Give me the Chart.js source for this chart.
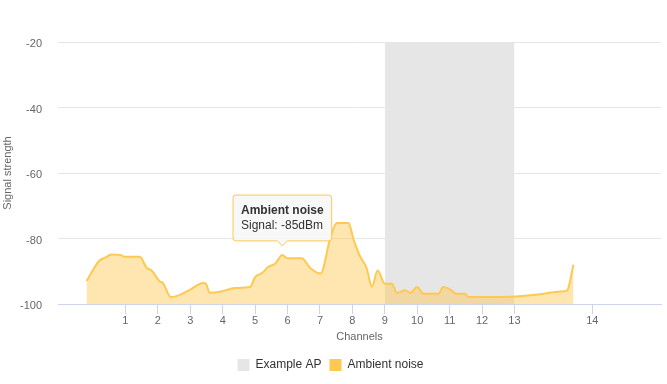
<!DOCTYPE html>
<html>
<head>
<meta charset="utf-8">
<style>
  html, body { margin: 0; padding: 0; background: #ffffff; }
  #wrap { width: 667px; height: 384px; }
</style>
<script src="https://cdn.jsdelivr.net/npm/chart.js@4.4.1/dist/chart.umd.min.js"></script>
</head>
<body>
<div id="wrap"><canvas id="c" width="667" height="384"></canvas></div>
<script>
// ---- data ----
const channelLabels = ['1','2','3','4','5','6','7','8','9','10','11','12','13','14'];
const channelFreqs  = [2412,2417,2422,2427,2432,2437,2442,2447,2452,2457,2462,2467,2472,2484];

const apFreq   = [2452, 2472];
const apSignal = [-20, -20];

const noiseFreq = [2406, 2408, 2408.8, 2409.9, 2411.2, 2411.9, 2414.2, 2415.3, 2416, 2417.3, 2417.8, 2419,
  2420.4, 2422, 2424, 2424.4, 2425, 2426.8, 2428.9, 2431.2, 2432, 2433.1, 2434, 2435.1, 2436.2, 2436.9,
  2439.2, 2440.5, 2442.1, 2443.6, 2444.6, 2446.4, 2447.2, 2448.2, 2449.2, 2450, 2450.9, 2452, 2453.1,
  2453.9, 2455.1, 2455.9, 2457, 2458, 2460.3, 2461, 2462.1, 2463, 2464.4, 2464.9, 2472.1, 2476, 2479.1,
  2480.1, 2481.1];
const noiseSignal = [-93, -86.7, -85.9, -84.9, -85, -85.6, -85.6, -89, -89.7, -93.1, -93.6, -97.9,
  -97.2, -95.6, -93.6, -93.8, -96.6, -96.2, -95.1, -94.8, -91.8, -90.5, -88.7, -87.7, -85, -86,
  -86, -89, -90.7, -79.8, -75.3, -75.3, -80.4, -85.5, -89, -94.7, -89.8, -93.8, -93.8,
  -96.6, -95.8, -96.6, -94.8, -96.9, -96.9, -94.8, -95.6, -96.9, -96.9, -97.9, -97.7, -97, -96.2,
  -95.9, -88];

const yTicks = [-100, -80, -60, -40, -20];
const tooltipIndex = 24;

// ---- chart ----
const FONT = '"Liberation Sans", Arial, Helvetica, sans-serif';
Chart.defaults.font.family = FONT;
Chart.defaults.font.size = 11;
Chart.defaults.color = '#666666';

const orange = 'rgb(255,200,80)';
const orangeFill = 'rgba(255,200,80,0.45)';
const gray = '#e6e6e6';

const toXY = (xs, ys) => xs.map((x, i) => ({ x: x, y: ys[i] }));

Chart.Tooltip.positioners.exact = function (items) {
  if (!items.length) return false;
  return { x: items[0].element.x, y: items[0].element.y };
};

const chart = new Chart(document.getElementById('c'), {
  type: 'line',
  data: {
    datasets: [
      {
        label: 'Example AP',
        data: toXY(apFreq, apSignal),
        fill: 'start',
        backgroundColor: gray,
        borderWidth: 0,
        borderColor: 'rgba(0,0,0,0)',
        pointRadius: 0,
        pointHoverRadius: 0,
        order: 2
      },
      {
        label: 'Ambient noise',
        data: toXY(noiseFreq, noiseSignal),
        fill: 'start',
        backgroundColor: orangeFill,
        borderColor: orange,
        borderWidth: 2,
        cubicInterpolationMode: 'monotone',
        pointRadius: 0,
        pointHoverRadius: 0,
        order: 1
      }
    ]
  },
  options: {
    responsive: false,
    animation: false,
    events: [],
    layout: { padding: { top: 42, right: 6, left: 0, bottom: 3 } },
    scales: {
      x: {
        type: 'linear',
        min: 2401.6,
        max: 2494.6,
        afterBuildTicks: (scale) => { scale.ticks = channelFreqs.map(v => ({ value: v })); },
        afterFit: (scale) => { scale.height = 47; },
        ticks: {
          autoSkip: false,
          maxRotation: 0,
          padding: 0,
          color: '#666666',
          font: { size: 11 },
          callback: (v) => {
            const i = channelFreqs.indexOf(v);
            return i >= 0 ? channelLabels[i] : '';
          }
        },
        grid: { drawOnChartArea: false, drawTicks: true, tickLength: 10, color: '#ccd6eb' },
        border: { display: true, color: '#ccd6eb', width: 1 },
        title: { display: true, text: 'Channels', color: '#666666', font: { size: 11 }, padding: { top: 0, bottom: 7.4 } }
      },
      y: {
        min: -100,
        max: -20,
        afterBuildTicks: (scale) => { scale.ticks = yTicks.map(v => ({ value: v })); },
        afterFit: (scale) => { scale.width = 58; },
        ticks: { padding: 16, labelOffset: 2, color: '#666666', font: { size: 11 } },
        grid: { drawTicks: false, color: '#e6e6e6' },
        border: { display: false },
        title: { display: true, text: 'Signal strength', color: '#666666', font: { size: 11 }, padding: { top: 1, bottom: 0 } }
      }
    },
    plugins: {
      legend: {
        position: 'bottom',
        labels: {
          boxWidth: 12,
          boxHeight: 12,
          padding: 8,
          color: '#333333',
          font: { size: 12 },
          generateLabels: (ch) => ch.data.datasets.map((ds, i) => ({
            text: ds.label,
            fillStyle: i === 0 ? gray : orange,
            strokeStyle: i === 0 ? gray : orange,
            lineWidth: 0,
            hidden: false,
            datasetIndex: i,
            fontColor: '#333333'
          }))
        }
      },
      tooltip: {
        enabled: true,
        position: 'exact',
        xAlign: 'center',
        yAlign: 'bottom',
        backgroundColor: 'rgba(247,247,247,0.92)',
        borderColor: orange,
        borderWidth: 1,
        cornerRadius: 3,
        caretSize: 5,
        caretPadding: 9,
        displayColors: false,
        titleColor: '#333333',
        bodyColor: '#333333',
        titleFont: { size: 12, weight: 'bold' },
        bodyFont: { size: 12 },
        titleMarginBottom: 1,
        padding: { top: 8, bottom: 8, left: 8, right: 8 },
        callbacks: {
          title: (items) => items.length ? items[0].dataset.label : '',
          label: (item) => 'Signal: ' + Math.round(item.parsed.y) + 'dBm'
        }
      }
    }
  }
});

const el = chart.getDatasetMeta(1).data[tooltipIndex];
chart.tooltip.setActiveElements([{ datasetIndex: 1, index: tooltipIndex }], { x: el.x, y: el.y });
chart.update();
</script>
</body>
</html>
